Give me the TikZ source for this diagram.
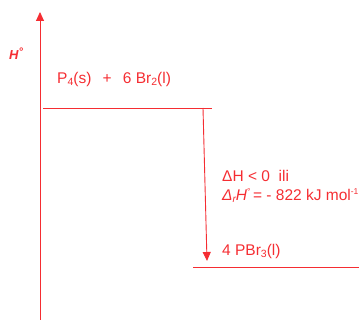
\documentclass[tikz,border=0pt]{standalone}
\usepackage{fontspec}
\setmainfont{Liberation Sans}
\usetikzlibrary{arrows.meta}
\definecolor{lred}{RGB}{245,45,50}
\newcommand{\sbs}[1]{\raisebox{-0.2ex}{\fontsize{10.5}{11}\selectfont #1}}
\newcommand{\sps}[1]{\raisebox{0.75ex}{\fontsize{8.5}{9}\selectfont #1}}
\begin{document}
\begin{tikzpicture}[x=1pt,y=-1pt,
  lvl/.style={draw=lred,line width=0.9pt},
  tip/.style={-{Triangle[length=9pt,width=8pt]}},
  txt/.style={text=lred,font=\fontsize{15.5}{17}\selectfont,inner sep=0pt,anchor=base west}]
\useasboundingbox (0,0) rectangle (359,320);
\coordinate (axb) at (40,320);
\coordinate (axt) at (40,12);
\draw[lvl,tip] (axb) -- (axt);
\node[txt,font=\bfseries\itshape\fontsize{13}{14}\selectfont] (h) at (9,60) {H\raisebox{0.6ex}{\fontsize{11}{11}\selectfont\bfseries °}};
\coordinate (u1) at (43,108);
\coordinate (u2) at (212,108);
\draw[lvl] (u1) -- (u2);
\node[txt] (react) at (57,84) {P\sbs{4}(s)\ \ \,+\ \ \,6 Br\sbs{2}(l)};
\coordinate (a1) at (203,108);
\coordinate (a2) at (207,261);
\draw[lvl,tip] (a1) -- (a2);
\coordinate (l1) at (193,267);
\coordinate (l2) at (359,267);
\draw[lvl] (l1) -- (l2);
\node[txt] (dh) at (222,182) {ΔH \textless{} 0\ \ ili};
\node[txt] (dr) at (222,201) {\textit{Δ\raisebox{-0.2ex}{\fontsize{10}{10}\selectfont r}H}\sps{°}\,= - 822 kJ mol\sps{-1}};
\node[txt] (prod) at (222,256) {4 PBr\sbs{3}(l)};
\end{tikzpicture}
\end{document}
